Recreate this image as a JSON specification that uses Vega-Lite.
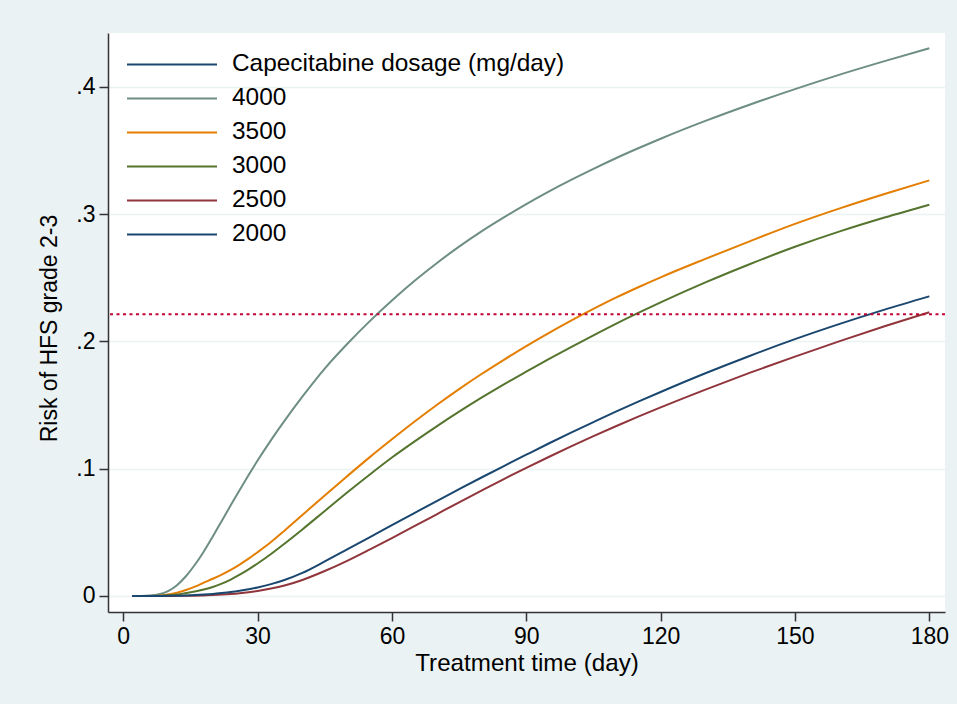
{
  "$schema": "https://vega.github.io/schema/vega-lite/v6.json",
  "width": 837,
  "height": 579,
  "autosize": {"type": "none"},
  "padding": {"left": 108, "top": 33, "right": 12, "bottom": 92},
  "background": "#EAF2F3",
  "config": {
    "view": {"fill": "white", "stroke": null},
    "font": "Liberation Sans"
  },
  "layer": [
    {
      "data": {
        "values": [
          {"t": 2, "4000": 0, "3500": 0, "3000": 0, "2500": 0, "2000": 0},
          {"t": 4, "4000": 0, "3500": 0, "3000": 0, "2500": 0, "2000": 0},
          {"t": 6, "4000": 0.0003, "3500": 0, "3000": 0, "2500": 0, "2000": 0},
          {"t": 8, "4000": 0.0013, "3500": 0.0002, "3000": 0.0001, "2500": 0, "2000": 0},
          {"t": 10, "4000": 0.0038, "3500": 0.0011, "3000": 0.0005, "2500": 0, "2000": 0.0001},
          {"t": 12, "4000": 0.0085, "3500": 0.0026, "3000": 0.0012, "2500": 0.0001, "2000": 0.0002},
          {"t": 14, "4000": 0.0155, "3500": 0.0047, "3000": 0.0023, "2500": 0.00016, "2000": 0.0004},
          {"t": 16, "4000": 0.0245, "3500": 0.0073, "3000": 0.0035, "2500": 0.00026, "2000": 0.0007},
          {"t": 18, "4000": 0.035, "3500": 0.0105, "3000": 0.0051, "2500": 0.00046, "2000": 0.0011},
          {"t": 20, "4000": 0.0468, "3500": 0.0135, "3000": 0.0071, "2500": 0.00072, "2000": 0.0016},
          {"t": 22, "4000": 0.059, "3500": 0.0168, "3000": 0.0097, "2500": 0.00106, "2000": 0.0023},
          {"t": 24, "4000": 0.0712, "3500": 0.0205, "3000": 0.0129, "2500": 0.0015, "2000": 0.0031},
          {"t": 26, "4000": 0.0832, "3500": 0.0247, "3000": 0.0167, "2500": 0.0021, "2000": 0.0041},
          {"t": 28, "4000": 0.095, "3500": 0.0293, "3000": 0.0209, "2500": 0.0029, "2000": 0.0053},
          {"t": 30, "4000": 0.1064, "3500": 0.0344, "3000": 0.0255, "2500": 0.0039, "2000": 0.0067},
          {"t": 33, "4000": 0.1225, "3500": 0.0424, "3000": 0.033, "2500": 0.0058, "2000": 0.0093},
          {"t": 36, "4000": 0.1376, "3500": 0.0513, "3000": 0.0411, "2500": 0.0082, "2000": 0.0125},
          {"t": 40, "4000": 0.1566, "3500": 0.0636, "3000": 0.0523, "2500": 0.0126, "2000": 0.0181},
          {"t": 45, "4000": 0.1787, "3500": 0.079, "3000": 0.0668, "2500": 0.0196, "2000": 0.0271},
          {"t": 50, "4000": 0.198, "3500": 0.0941, "3000": 0.0813, "2500": 0.0276, "2000": 0.0366},
          {"t": 55, "4000": 0.2158, "3500": 0.1089, "3000": 0.0953, "2500": 0.0364, "2000": 0.0461},
          {"t": 60, "4000": 0.2322, "3500": 0.1231, "3000": 0.1088, "2500": 0.0455, "2000": 0.0556},
          {"t": 65, "4000": 0.2475, "3500": 0.1369, "3000": 0.1213, "2500": 0.0548, "2000": 0.0651},
          {"t": 70, "4000": 0.2615, "3500": 0.1501, "3000": 0.1333, "2500": 0.0642, "2000": 0.0746},
          {"t": 75, "4000": 0.2745, "3500": 0.1626, "3000": 0.1448, "2500": 0.0736, "2000": 0.0839},
          {"t": 80, "4000": 0.2865, "3500": 0.1744, "3000": 0.1558, "2500": 0.0828, "2000": 0.0931},
          {"t": 85, "4000": 0.2975, "3500": 0.1856, "3000": 0.1663, "2500": 0.0919, "2000": 0.1021},
          {"t": 90, "4000": 0.308, "3500": 0.1964, "3000": 0.1763, "2500": 0.1007, "2000": 0.111},
          {"t": 95, "4000": 0.3178, "3500": 0.2066, "3000": 0.1861, "2500": 0.1092, "2000": 0.1198},
          {"t": 100, "4000": 0.327, "3500": 0.2164, "3000": 0.1956, "2500": 0.1175, "2000": 0.1283},
          {"t": 105, "4000": 0.3357, "3500": 0.2256, "3000": 0.2048, "2500": 0.1256, "2000": 0.1366},
          {"t": 110, "4000": 0.344, "3500": 0.2344, "3000": 0.2138, "2500": 0.1334, "2000": 0.1448},
          {"t": 115, "4000": 0.3518, "3500": 0.2426, "3000": 0.2224, "2500": 0.1409, "2000": 0.1527},
          {"t": 120, "4000": 0.3593, "3500": 0.2504, "3000": 0.2307, "2500": 0.1482, "2000": 0.1603},
          {"t": 130, "4000": 0.3733, "3500": 0.2649, "3000": 0.2464, "2500": 0.1622, "2000": 0.175},
          {"t": 140, "4000": 0.3862, "3500": 0.2789, "3000": 0.2609, "2500": 0.1755, "2000": 0.1888},
          {"t": 150, "4000": 0.3983, "3500": 0.2924, "3000": 0.2744, "2500": 0.1881, "2000": 0.2018},
          {"t": 160, "4000": 0.4097, "3500": 0.3046, "3000": 0.2865, "2500": 0.2003, "2000": 0.2138},
          {"t": 170, "4000": 0.4203, "3500": 0.3159, "3000": 0.2974, "2500": 0.2119, "2000": 0.225},
          {"t": 180, "4000": 0.4304, "3500": 0.3266, "3000": 0.3075, "2500": 0.223, "2000": 0.2355}
        ]
      },
      "transform": [{"fold": ["4000", "3500", "3000", "2500", "2000"], "as": ["dose", "risk"]}],
      "mark": {"type": "line", "strokeWidth": 2, "interpolate": "monotone"},
      "encoding": {
        "x": {
          "field": "t",
          "type": "quantitative",
          "scale": {"domain": [-3.4, 183.5], "nice": false, "zero": false},
          "axis": {
            "values": [0, 30, 60, 90, 120, 150, 180],
            "title": "Treatment time (day)",
            "grid": false,
            "tickSize": 9,
            "tickWidth": 1.5,
            "tickColor": "#333333",
            "domainColor": "#333333",
            "domainWidth": 1.5,
            "labelFontSize": 23,
            "labelColor": "black",
            "labelPadding": 4,
            "labelFlush": false,
            "titleFontSize": 24.2,
            "titleFontWeight": "normal",
            "titleColor": "black",
            "titlePadding": 3
          }
        },
        "y": {
          "field": "risk",
          "type": "quantitative",
          "scale": {"domain": [-0.0126, 0.4424], "nice": false, "zero": false},
          "axis": {
            "values": [0, 0.1, 0.2, 0.3, 0.4],
            "labelExpr": "datum.value == 0 ? '0' : replace(format(datum.value, '.1f'), '0.', '.')",
            "title": "Risk of HFS grade 2-3",
            "grid": true,
            "gridColor": "#EAF2F3",
            "gridWidth": 1.5,
            "tickSize": 9,
            "tickWidth": 1.5,
            "tickColor": "#333333",
            "domainColor": "#333333",
            "domainWidth": 1.5,
            "labelFontSize": 23,
            "labelColor": "black",
            "labelPadding": 4,
            "labelFlush": false,
            "titleFontSize": 23,
            "titleFontWeight": "normal",
            "titleColor": "black",
            "titlePadding": 14,
            "titleY": 295
          }
        },
        "color": {
          "field": "dose",
          "type": "nominal",
          "scale": {
            "domain": ["Capecitabine dosage (mg/day)", "4000", "3500", "3000", "2500", "2000"],
            "range": ["#1a476f", "#6e8e84", "#e37e00", "#55752f", "#90353b", "#1a476f"]
          },
          "legend": {
            "title": null,
            "orient": "none",
            "legendX": 18,
            "legendY": 14.5,
            "padding": 0,
            "symbolType": "stroke",
            "symbolSize": 8100,
            "symbolStrokeWidth": 2,
            "clipHeight": 33.9,
            "rowPadding": 0,
            "labelOffset": 14,
            "labelFontSize": 24.4,
            "labelColor": "black",
            "labelLimit": 500
          }
        }
      }
    },
    {
      "data": {"values": [{"ref": 0.2214}]},
      "mark": {"type": "rule", "color": "#c10534", "strokeWidth": 2, "strokeDash": [3, 3.5]},
      "encoding": {"y": {"field": "ref", "type": "quantitative"}}
    }
  ]
}
